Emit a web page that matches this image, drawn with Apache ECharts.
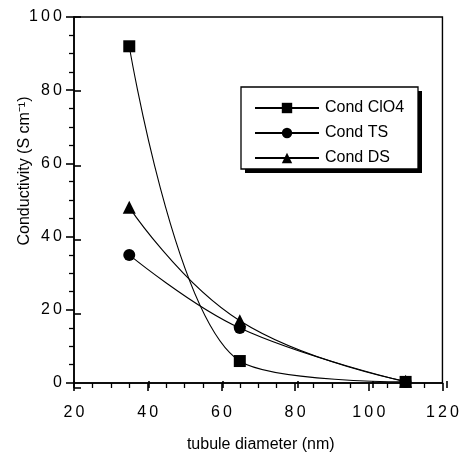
<!DOCTYPE html>
<html>
<head>
<meta charset="utf-8">
<script src="https://cdn.jsdelivr.net/npm/echarts@6/dist/echarts.min.js"></script>
<style>html,body{margin:0;padding:0;background:#fff}#c{width:462px;height:458px}</style>
</head>
<body>
<div id="c"></div>
<script>
const diameters = [35, 65, 110];
const condClO4 = [92, 6, 0.3];
const condTS = [35, 15, 0.3];
const condDS = [48, 17, 0.5];
const seriesNames = ['Cond ClO4', 'Cond TS', 'Cond DS'];
const xTicks = [20, 40, 60, 80, 100, 120];
const yTicks = [0, 20, 40, 60, 80, 100];

const FONT = 'Liberation Sans, Arial, Helvetica, sans-serif';
const spaced = v => String(v).split('').join('\u2009');
const pairs = arr => diameters.map((d, i) => [d, arr[i]]);

const chart = echarts.init(document.getElementById('c'), null, {renderer: 'canvas'});
const gridPos = {left: 74, right: 15, top: 17, bottom: 70};
const xBase = {type: 'value', min: xTicks[0], max: xTicks[xTicks.length - 1], interval: 20};
const yBase = {type: 'value', min: yTicks[0], max: yTicks[yTicks.length - 1], interval: 20};

const option = {
  animation: false,
  backgroundColor: '#fff',
  grid: [
    Object.assign({show: true, borderColor: '#000', borderWidth: 1.4, backgroundColor: 'transparent'}, gridPos),
    Object.assign({show: false}, gridPos)
  ],
  xAxis: [
    Object.assign({}, xBase, {
      gridIndex: 0, position: 'bottom',
      name: 'tubule diameter (nm)', nameLocation: 'middle', nameGap: 54,
      nameTextStyle: {fontFamily: FONT, fontSize: 16, color: '#000', padding: [0, 0, 0, 5]},
      axisLine: {show: true, lineStyle: {color: '#000', width: 1.6}},
      axisTick: {show: true, inside: false, length: 8, lineStyle: {color: '#000', width: 1.6}},
      minorTick: {show: true, splitNumber: 4, length: 5, lineStyle: {color: '#000', width: 1.3}},
      axisLabel: {fontFamily: FONT, fontSize: 16, color: '#000', margin: 22, formatter: spaced},
      splitLine: {show: false}
    }),
    Object.assign({}, xBase, {
      gridIndex: 1, position: 'bottom',
      axisLine: {show: false},
      axisTick: {show: true, inside: true, length: 7, lineStyle: {color: '#000', width: 1.6}},
      axisLabel: {show: false}, splitLine: {show: false}
    })
  ],
  yAxis: [
    Object.assign({}, yBase, {
      gridIndex: 0, position: 'left',
      axisLine: {show: true, lineStyle: {color: '#000', width: 1.6}},
      axisTick: {show: true, inside: false, length: 8, lineStyle: {color: '#000', width: 1.6}},
      minorTick: {show: true, splitNumber: 4, length: 5, lineStyle: {color: '#000', width: 1.3}},
      axisLabel: {fontFamily: FONT, fontSize: 16, color: '#000', margin: 12, formatter: spaced},
      splitLine: {show: false}
    }),
    Object.assign({}, yBase, {
      gridIndex: 1, position: 'left',
      axisLine: {show: false},
      axisTick: {show: true, inside: true, length: 7, lineStyle: {color: '#000', width: 1.6}},
      axisLabel: {show: false}, splitLine: {show: false}
    })
  ],
  legend: {
    orient: 'vertical', left: 241, top: 87,
    padding: [13, 16, 8, 13],
    itemWidth: 64, itemHeight: 13, itemGap: 9,
    textStyle: {fontFamily: FONT, fontSize: 16, color: '#000', padding: [0, 0, 0, 1]},
    borderWidth: 0, backgroundColor: 'transparent',
    data: seriesNames, z: 10
  },
  graphic: [
    {type: 'rect', z: 5, shape: {x: 245, y: 91, width: 177, height: 82}, style: {fill: '#000'}},
    {type: 'rect', z: 6, shape: {x: 241, y: 87, width: 177, height: 82},
      style: {fill: '#fff', stroke: '#000', lineWidth: 1.3}},
    {type: 'text', x: 25, y: 171, rotation: Math.PI / 2,
      style: {text: 'Conductivity (S cm\u207B\u00B9)', fontFamily: FONT, fontSize: 16, fill: '#000',
        align: 'center', verticalAlign: 'middle'}}
  ],
  series: [
    {name: seriesNames[2], type: 'line', data: pairs(condDS), smooth: 0.45, z: 2,
      xAxisIndex: 0, yAxisIndex: 0,
      symbol: 'triangle', symbolSize: 13, itemStyle: {color: '#000'},
      lineStyle: {color: '#000', width: 1.1}},
    {name: seriesNames[1], type: 'line', data: pairs(condTS), smooth: 0.4, z: 3,
      xAxisIndex: 0, yAxisIndex: 0,
      symbol: 'circle', symbolSize: 12, itemStyle: {color: '#000'},
      lineStyle: {color: '#000', width: 1.1}},
    {name: seriesNames[0], type: 'line', data: pairs(condClO4), smooth: 0.35, z: 4,
      xAxisIndex: 0, yAxisIndex: 0,
      symbol: 'rect', symbolSize: 12, itemStyle: {color: '#000'},
      lineStyle: {color: '#000', width: 1.1}}
  ]
};
chart.setOption(option);
</script>
</body>
</html>
